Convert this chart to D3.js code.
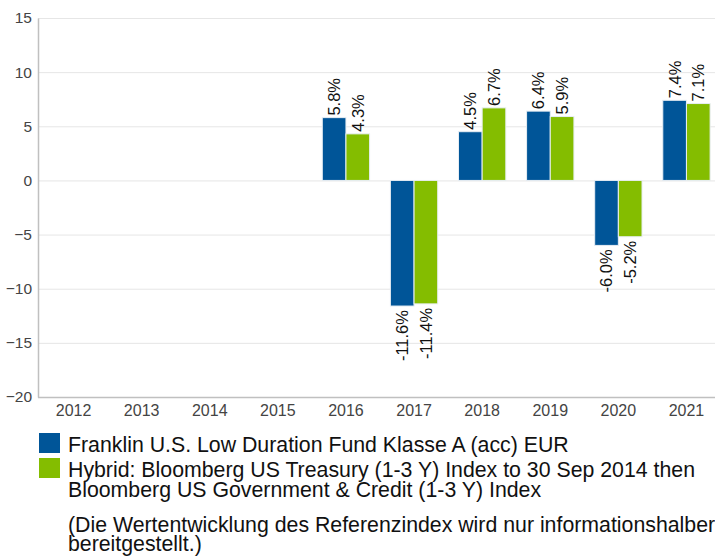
<!DOCTYPE html>
<html><head><meta charset="utf-8">
<script src="https://cdn.jsdelivr.net/npm/d3@7"></script>
<style>
body{margin:0;background:#fff;}
svg{display:block;font-family:"Liberation Sans",Arial,sans-serif;}
</style></head>
<body><svg id="c" width="715" height="556"></svg>
<script>
const years = ["2012","2013","2014","2015","2016","2017","2018","2019","2020","2021"];
const fundValues = [null,null,null,null,5.8,-11.6,4.5,6.4,-6.0,7.4];
const indexValues = [null,null,null,null,4.3,-11.4,6.7,5.9,-5.2,7.1];
const yTicks = [-20,-15,-10,-5,0,5,10,15];
const seriesNames = ["Franklin U.S. Low Duration Fund Klasse A (acc) EUR",
  "Hybrid: Bloomberg US Treasury (1-3 Y) Index to 30 Sep 2014 then|Bloomberg US Government & Credit (1-3 Y) Index"];
const seriesColors = ["#005598","#84bd00"];
const noteLines = ["(Die Wertentwicklung des Referenzindex wird nur informationshalber","bereitgestellt.)"];

const svg = d3.select("#c");
const L = 38, T = 18, B = 397;
const y = d3.scaleLinear().domain([-20,15]).range([B,T]);
const x = d3.scaleBand().domain(years).range([39.5,720.5]).paddingInner(0.305).paddingOuter(0.1525);
const xs = d3.scaleBand().domain([0,1]).range([0,x.bandwidth()]);

// gridlines
svg.append("g").selectAll("line").data(yTicks).join("line")
  .attr("x1",L).attr("x2",715).attr("y1",d=>y(d)+0.5).attr("y2",d=>y(d)+0.5)
  .attr("stroke","#e6e6e6").attr("stroke-width",1);

// y axis
const ya = svg.append("g").attr("transform",`translate(${L},0)`)
  .call(d3.axisLeft(y).tickValues(yTicks).tickSize(0).tickPadding(6));
ya.select(".domain").attr("stroke","#c0c0c0").attr("stroke-width",1.5);
ya.selectAll("text").attr("font-size","15.5px").attr("fill","#444").attr("font-family","Liberation Sans, Arial, sans-serif");

// x axis
const xa = svg.append("g").attr("transform",`translate(0,${B})`)
  .call(d3.axisBottom(x).tickSize(0).tickPadding(8));
xa.select(".domain").remove();
svg.append("line").attr("x1",L).attr("x2",715).attr("y1",B+0.5).attr("y2",B+0.5).attr("stroke","#c0c0c0").attr("stroke-width",1.5);
xa.selectAll("text").attr("font-size","16px").attr("fill","#444").attr("font-family","Liberation Sans, Arial, sans-serif");

const series = [fundValues,indexValues];
series.forEach((vals,si)=>{
  const data = years.map((yr,i)=>({yr,v:vals[i]})).filter(d=>d.v!==null);
  svg.append("g").selectAll("rect").data(data).join("rect")
    .attr("x",d=>x(d.yr)+xs(si))
    .attr("width",xs.bandwidth())
    .attr("y",d=>y(Math.max(0,d.v)))
    .attr("height",d=>Math.abs(y(d.v)-y(0)))
    .attr("fill",seriesColors[si])
    .attr("stroke","#e8eef4").attr("stroke-width",1);
  svg.append("g").selectAll("text").data(data).join("text")
    .attr("transform",d=>{
      const cx = x(d.yr)+xs(si)+xs.bandwidth()/2;
      const cy = d.v>=0 ? y(d.v)-2 : y(d.v)+4;
      return `translate(${cx},${cy}) rotate(-90)`;
    })
    .attr("text-anchor",d=>d.v>=0?"start":"end")
    .attr("dy","0.36em")
    .attr("font-size","16.5px").attr("fill","#111")
    .text(d=>d.v.toFixed(1)+"%");
});

// legend
const lg = svg.append("g");
const legendY = [433,458];
seriesNames.forEach((name,i)=>{
  lg.append("rect").attr("x",39).attr("y",legendY[i]).attr("width",21).attr("height",20).attr("fill",seriesColors[i]);
  name.split("|").forEach((line,j)=>{
    lg.append("text").attr("x",68).attr("y",legendY[i]+19+j*20)
      .attr("font-size","21.3px").attr("fill","#111").text(line);
  });
});
noteLines.forEach((line,j)=>{
  lg.append("text").attr("x",68).attr("y",532+j*19).attr("font-size","21.3px").attr("fill","#111").text(line);
});
</script></body></html>
